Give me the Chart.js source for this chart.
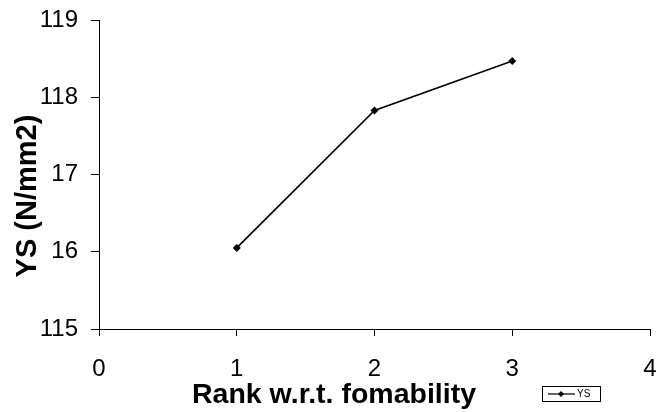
<!DOCTYPE html>
<html>
<head>
<meta charset="utf-8">
<script src="https://cdn.jsdelivr.net/npm/chart.js@4.4.0/dist/chart.umd.min.js"></script>
<style>
    body { margin: 0; background: #fff; }
    #wrap { width: 660px; height: 412px; }
</style>
</head>
<body>
<div id="wrap"><canvas id="ys-chart" width="660" height="412"></canvas></div>
<script>
    // yield strength against foamability rank
    const rank = [1, 2, 3];
    const ysValues = [116.05, 117.83, 118.47];

    const yTickValues = [115, 116, 117, 118, 119];
    const yTickLabels = ['115', '16', '17', '118', '119'];
    const xTickLabels = ['0', '1', '2', '3', '4'];

    const xTitle = 'Rank w.r.t. fomability';
    const yTitle = 'YS (N/mm2)';
    const seriesName = 'YS';

    const fontFamily = '"Liberation Sans", Arial, sans-serif';

    // axis titles and the boxed legend are drawn by hand so they can sit off-centre
    const extrasPlugin = {
        id: 'extras',
        afterDraw: function(chart){
            let ctx = chart.ctx;
            ctx.save();
            ctx.fillStyle = '#000';

            ctx.font = 'bold 28.5px ' + fontFamily;
            ctx.textAlign = 'center';
            ctx.textBaseline = 'alphabetic';
            ctx.fillText(xTitle, 334, 403);

            ctx.save();
            ctx.translate(28, 196);
            ctx.rotate(-Math.PI / 2);
            ctx.font = 'bold 29px ' + fontFamily;
            ctx.textBaseline = 'middle';
            ctx.fillText(yTitle, 0, 0);
            ctx.restore();

            // legend box
            let ds = chart.data.datasets[0];
            ctx.strokeStyle = '#000';
            ctx.lineWidth = 1;
            ctx.strokeRect(542.5, 386.5, 58, 15);

            ctx.strokeStyle = ds.borderColor;
            ctx.lineWidth = 1.2;
            ctx.beginPath();
            ctx.moveTo(548, 394);
            ctx.lineTo(575, 394);
            ctx.stroke();

            ctx.fillStyle = ds.pointBackgroundColor;
            ctx.beginPath();
            ctx.moveTo(561, 391);
            ctx.lineTo(564, 394);
            ctx.lineTo(561, 397);
            ctx.lineTo(558, 394);
            ctx.closePath();
            ctx.fill();

            ctx.fillStyle = '#000';
            ctx.font = '10px ' + fontFamily;
            ctx.textAlign = 'left';
            ctx.textBaseline = 'middle';
            ctx.fillText(ds.label, 577, 394.5);

            ctx.restore();
        }
    };

    let points = [];
    for (let i = 0; i < rank.length; i++) {
        points.push({ x: rank[i], y: ysValues[i] });
    }

    let ctx = document.getElementById('ys-chart');

    let ysChart = new Chart(ctx, {
        type: 'line',
        data: {
            datasets: [{
                label: seriesName,
                data: points,
                borderColor: '#000',
                borderWidth: 1.6,
                pointStyle: 'rectRot',
                pointRadius: 4,
                pointBackgroundColor: '#000',
                pointBorderColor: '#000',
                pointBorderWidth: 0,
                tension: 0,
                fill: false
            }]
        },
        options: {
            responsive: false,
            animation: false,
            events: [],
            layout: {
                padding: { top: 20, right: 10, left: 0, bottom: 0 }
            },
            plugins: {
                legend: { display: false },
                tooltip: { enabled: false }
            },
            scales: {
                x: {
                    type: 'linear',
                    min: 0,
                    max: 4,
                    afterFit: function(scale){
                        scale.height = 83;
                        scale.paddingLeft = 0;
                        scale.paddingRight = 0;
                    },
                    afterBuildTicks: function(scale){
                        scale.ticks = xTickLabels.map((t, i) => ({ value: i }));
                    },
                    grid: {
                        drawOnChartArea: false,
                        drawTicks: true,
                        tickLength: 7,
                        tickColor: '#000',
                        lineWidth: 1
                    },
                    border: { color: '#000', width: 1 },
                    ticks: {
                        color: '#000',
                        padding: 19,
                        maxRotation: 0,
                        font: { family: fontFamily, size: 24 },
                        callback: function(value){
                            return xTickLabels[value];
                        }
                    }
                },
                y: {
                    type: 'linear',
                    min: 115,
                    max: 119,
                    afterFit: function(scale){
                        scale.width = 99;
                        scale.paddingTop = 0;
                        scale.paddingBottom = 0;
                    },
                    afterBuildTicks: function(scale){
                        scale.ticks = yTickValues.map(v => ({ value: v }));
                    },
                    grid: {
                        drawOnChartArea: false,
                        drawTicks: true,
                        tickLength: 8,
                        tickColor: '#000',
                        lineWidth: 1
                    },
                    border: { color: '#000', width: 1 },
                    ticks: {
                        color: '#000',
                        padding: 13,
                        font: { family: fontFamily, size: 24 },
                        callback: function(value){
                            return yTickLabels[yTickValues.indexOf(value)];
                        }
                    }
                }
            }
        },
        plugins: [extrasPlugin]
    });
</script>
</body>
</html>
